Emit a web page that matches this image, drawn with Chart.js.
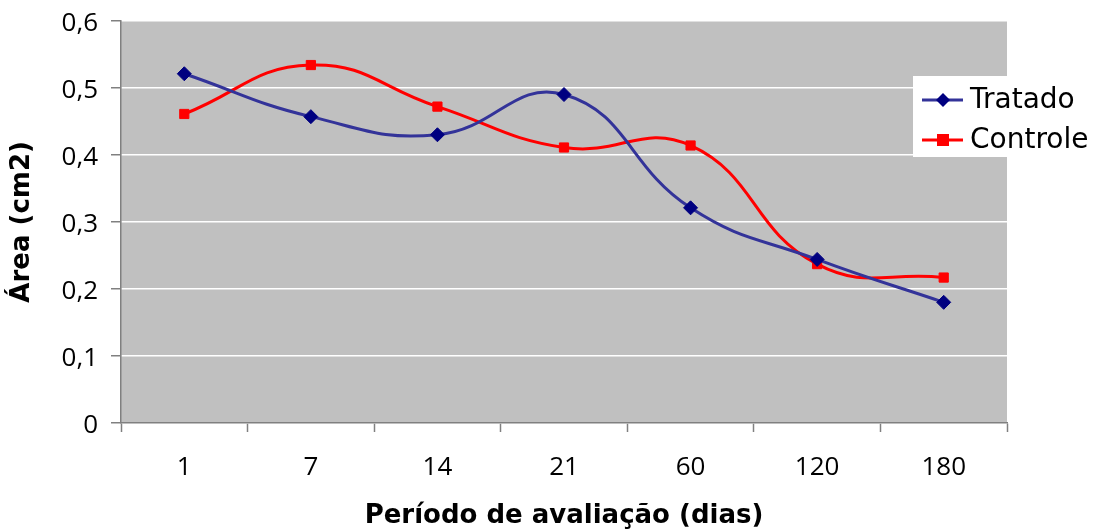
<!DOCTYPE html>
<html>
<head>
<meta charset="utf-8">
<script src="https://cdn.jsdelivr.net/npm/chart.js@4.4.1/dist/chart.umd.min.js"></script>
<style>
  html, body { margin: 0; padding: 0; background: #ffffff; }
  #wrap { width: 1105px; height: 532px; position: relative; }
</style>
</head>
<body>
<div id="wrap"><canvas id="c" width="1105" height="532"></canvas></div>
<script>
// Evaluation periods (days) and measured area (cm2)
const periods = ['1', '7', '14', '21', '60', '120', '180'];
const tratado = [0.521, 0.457, 0.430, 0.490, 0.321, 0.244, 0.180];
const controle = [0.461, 0.534, 0.472, 0.411, 0.414, 0.237, 0.217];
const yTicks = [0, 0.1, 0.2, 0.3, 0.4, 0.5, 0.6];
const yTickLabels = ['0', '0,1', '0,2', '0,3', '0,4', '0,5', '0,6'];

const TICK_FONT = '"Open Sans", "DejaVu Sans", sans-serif';
const TITLE_FONT = '"DejaVu Sans", sans-serif';

// Gray plot background
const plotBg = {
  id: 'plotBg',
  beforeDraw(chart) {
    const { ctx, chartArea: a } = chart;
    ctx.save();
    ctx.fillStyle = '#c0c0c0';
    ctx.fillRect(a.left, a.top, a.right - a.left, a.bottom - a.top);
    ctx.restore();
  }
};

// Boxed legend to the right of the plot
const sideLegend = {
  id: 'sideLegend',
  afterDraw(chart) {
    const { ctx } = chart;
    const x = 913, y = 76, w = 187, h = 81;
    ctx.save();
    ctx.fillStyle = '#ffffff';
    ctx.fillRect(x, y, w, h);
    chart.data.datasets.forEach((ds, i) => {
      const cy = y + 24 + i * 40;
      ctx.strokeStyle = ds.borderColor;
      ctx.lineWidth = 3;
      ctx.beginPath();
      ctx.moveTo(x + 9, cy);
      ctx.lineTo(x + 50, cy);
      ctx.stroke();
      ctx.fillStyle = ds.pointBackgroundColor;
      const cx = x + 30;
      if (ds.pointStyle === 'rectRot') {
        ctx.beginPath();
        ctx.moveTo(cx, cy - 7);
        ctx.lineTo(cx + 7, cy);
        ctx.lineTo(cx, cy + 7);
        ctx.lineTo(cx - 7, cy);
        ctx.closePath();
        ctx.fill();
      } else {
        ctx.fillRect(cx - 6, cy - 6, 12, 12);
      }
      ctx.fillStyle = '#000000';
      ctx.font = '28px ' + TITLE_FONT;
      ctx.textBaseline = 'middle';
      ctx.textAlign = 'left';
      ctx.fillText(ds.label, x + 57, cy + 1);
    });
    ctx.restore();
  }
};

new Chart(document.getElementById('c'), {
  type: 'line',
  data: {
    labels: periods,
    datasets: [
      {
        label: 'Tratado',
        data: tratado,
        borderColor: '#333399',
        borderWidth: 3,
        pointStyle: 'rectRot',
        pointRadius: 7,
        pointHoverRadius: 7,
        pointBackgroundColor: '#000080',
        pointBorderColor: '#000080',
        pointBorderWidth: 1,
        tension: 0.45
      },
      {
        label: 'Controle',
        data: controle,
        borderColor: '#ff0000',
        borderWidth: 3,
        pointStyle: 'rect',
        pointRadius: 6.5,
        pointHoverRadius: 6.5,
        pointBackgroundColor: '#ff0000',
        pointBorderColor: '#ff0000',
        pointBorderWidth: 1,
        tension: 0.45
      }
    ]
  },
  options: {
    responsive: false,
    animation: false,
    devicePixelRatio: 1,
    layout: { padding: { left: 0, top: 20, right: 98, bottom: 0 } },
    plugins: {
      legend: { display: false },
      tooltip: { enabled: false }
    },
    scales: {
      x: {
        type: 'category',
        offset: true,
        afterFit(s) { s.height = 109; },
        grid: {
          offset: true,
          drawOnChartArea: false,
          tickLength: 9,
          tickColor: '#808080',
          tickWidth: 1.5
        },
        border: { color: '#808080', width: 1.5 },
        ticks: {
          color: '#000000',
          padding: 20,
          font: { family: TICK_FONT, size: 26 }
        },
        title: {
          display: true,
          text: 'Período de avaliação (dias)',
          color: '#000000',
          font: { family: TITLE_FONT, size: 26, weight: 'bold' },
          padding: { top: 8, bottom: 0 }
        }
      },
      y: {
        min: 0,
        max: 0.6,
        afterFit(s) { s.width = 121; },
        afterBuildTicks(s) { s.ticks = yTicks.map(v => ({ value: v })); },
        grid: {
          color: '#ffffff',
          lineWidth: 1.5,
          tickLength: 10,
          tickColor: '#808080',
          tickWidth: 1.5
        },
        border: { color: '#808080', width: 1.5 },
        ticks: {
          color: '#000000',
          padding: 13,
          labelOffset: 3,
          font: { family: TICK_FONT, size: 26, lineHeight: 0.6 },
          callback(v) {
            const i = yTicks.findIndex(t => Math.abs(t - v) < 1e-9);
            return i >= 0 ? yTickLabels[i] : '';
          }
        },
        title: {
          display: true,
          text: 'Área (cm2)',
          color: '#000000',
          font: { family: TITLE_FONT, size: 26, weight: 'bold' },
          padding: { top: 7, bottom: 0 }
        }
      }
    }
  },
  plugins: [plotBg, sideLegend]
});
</script>
</body>
</html>
